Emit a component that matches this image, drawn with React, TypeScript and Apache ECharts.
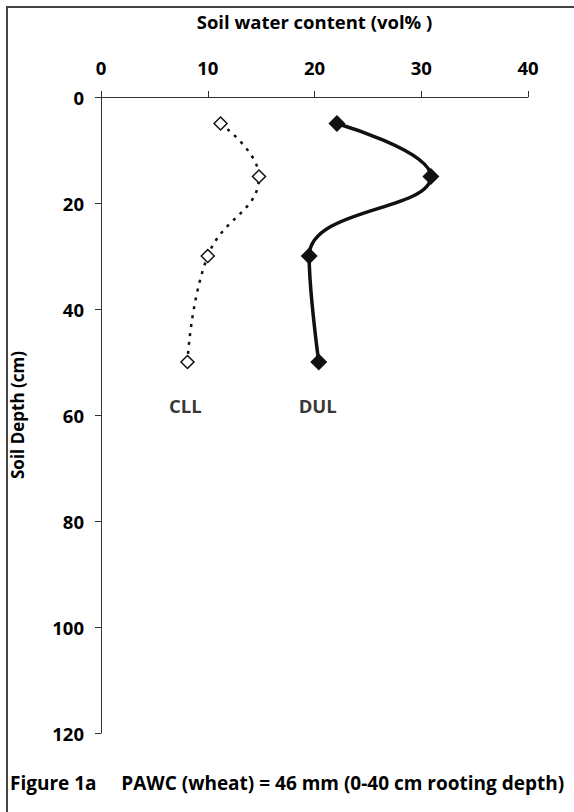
import React, { useEffect, useRef } from "react";
import * as echarts from "echarts";

const cllWater = [11.2, 14.8, 10.0, 8.1];
const cllDepth = [5, 15, 30, 50];
const dulWater = [22.1, 30.9, 19.5, 20.4];
const dulDepth = [5, 15, 30, 50];
const seriesLabels = ["CLL", "DUL"];
const labelWater = [7.9, 20.3];
const labelDepth = [58.2, 58.2];
const xTitle = "Soil water content (vol% )";
const yTitle = "Soil Depth (cm)";
const caption = "Figure 1a     PAWC (wheat) = 46 mm (0-40 cm rooting depth)";

const FONT = "Open Sans";

export default function App() {
  const ref = useRef<HTMLDivElement>(null);
  useEffect(() => {
    if (!ref.current) return;
    const chart = echarts.init(ref.current, null, { renderer: "svg" });
    const cll = cllWater.map((v, i) => [v, cllDepth[i]]);
    const dul = dulWater.map((v, i) => [v, dulDepth[i]]);
    const lab = seriesLabels.map((s, i) => [labelWater[i], labelDepth[i], s]);
    chart.setOption({
      animation: false,
      backgroundColor: "#fff",
      textStyle: { fontFamily: FONT },
      grid: { left: 101, right: 46, top: 97, bottom: 79, containLabel: false },
      xAxis: {
        type: "value",
        position: "top",
        min: 0,
        max: 40,
        interval: 10,
        name: xTitle,
        nameLocation: "middle",
        nameGap: 66,
        nameTextStyle: { fontFamily: FONT, fontWeight: "bold", fontSize: 18.5, color: "#000" },
        axisLine: { show: true, lineStyle: { color: "#333", width: 1 } },
        axisTick: { show: true, inside: false, length: 6, lineStyle: { color: "#333" } },
        axisLabel: { fontFamily: FONT, fontWeight: "bold", fontSize: 18.5, color: "#000", margin: 20 },
        splitLine: { show: false },
      },
      yAxis: {
        type: "value",
        inverse: true,
        min: 0,
        max: 120,
        interval: 20,
        name: yTitle,
        nameLocation: "middle",
        nameGap: 75,
        nameTextStyle: { fontFamily: FONT, fontWeight: "bold", fontSize: 17, color: "#000" },
        axisLine: { show: true, lineStyle: { color: "#333", width: 1 } },
        axisTick: { show: true, inside: false, length: 6, lineStyle: { color: "#333" } },
        axisLabel: { fontFamily: FONT, fontWeight: "bold", fontSize: 18.5, color: "#000", margin: 17 },
        splitLine: { show: false },
      },
      series: [
        {
          name: "CLL",
          type: "line",
          data: cll,
          smooth: 0.45,
          symbol: "diamond",
          symbolSize: 13,
          lineStyle: { color: "#111", width: 2.5, type: [3, 6] },
          itemStyle: { color: "#fff", borderColor: "#111", borderWidth: 1.5 },
          z: 3,
        },
        {
          name: "DUL",
          type: "line",
          data: dul,
          smooth: 0.45,
          symbol: "diamond",
          symbolSize: 17,
          lineStyle: { color: "#111", width: 3.5 },
          itemStyle: { color: "#111" },
          z: 3,
        },
        {
          name: "labels",
          type: "scatter",
          data: lab,
          symbolSize: 0,
          silent: true,
          label: {
            show: true,
            position: "inside",
            formatter: (p: any) => p.value[2],
            fontFamily: FONT,
            fontWeight: "bold",
            fontSize: 18.5,
            color: "#000",
          },
        },
      ],
      graphic: [
        {
          type: "rect",
          shape: { x: 7, y: 7, width: 700, height: 900 },
          style: { fill: "none", stroke: "#444", lineWidth: 2 },
          silent: true,
        },
        {
          type: "text",
          left: 10,
          top: 773,
          style: {
            text: caption,
            fontFamily: FONT,
            fontWeight: "bold",
            fontSize: 19,
            fill: "#000",
          },
        },
      ],
    });
    return () => chart.dispose();
  }, []);
  return (
    <div
      ref={ref}
      style={{ position: "absolute", left: 0, top: 0, width: 574, height: 812, background: "#fff" }}
    />
  );
}
